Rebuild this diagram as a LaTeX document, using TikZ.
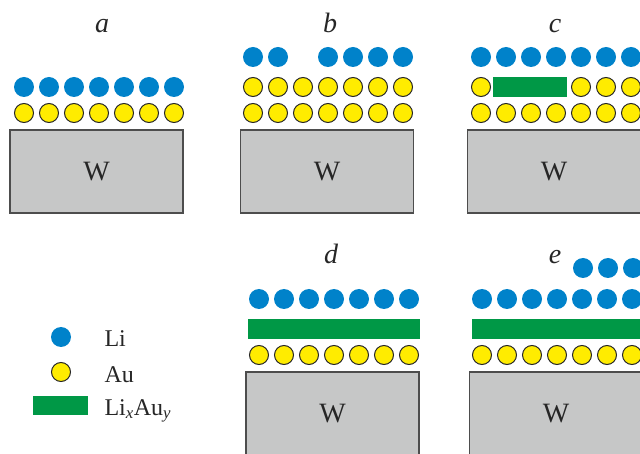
\documentclass[tikz,border=0pt]{standalone}
\usepackage{fontspec}
\setmainfont{Liberation Serif}
\usepackage{tikz}
\definecolor{liblue}{HTML}{0082CA}
\definecolor{auyellow}{HTML}{FFEC00}
\definecolor{alloygreen}{HTML}{009846}
\definecolor{wgray}{HTML}{C6C7C7}
\definecolor{edge}{HTML}{4D4D4D}

\begin{document}
\begin{tikzpicture}[
    x=1pt,y=-1pt,
    li/.style={circle,fill=liblue,minimum size=20pt,inner sep=0pt},
    au/.style={circle,fill=auyellow,draw=black!85,line width=1pt,minimum size=19pt,inner sep=0pt},
    alloy/.style={rectangle,fill=alloygreen,inner sep=0pt,minimum height=20pt},
    wbox/.style={rectangle,draw=edge,fill=wgray,line width=1.2pt,minimum width=173pt,minimum height=83pt,
      inner sep=0pt,text=black!85,font=\fontsize{28}{28}\selectfont},
    tag/.style={anchor=base,text=black!85,font=\fontsize{28}{28}\selectfont\itshape},
    legtext/.style={anchor=base west,text=black!85,font=\fontsize{24}{24}\selectfont}
  ]
    \path[use as bounding box,clip] (0,0) rectangle (640,454);

    % a
    \node[tag] (tag-a) at (102,33) {a};
    \foreach \i in {0,...,6} {
      \node[li] (a-li-\i) at (24+25*\i,87) {};
      \node[au] (a-au-\i) at (24+25*\i,113) {};
    }
    \node[wbox] (w-a) at (96.5,171.5) {W};

    % b
    \node[tag] (tag-b) at (330,33) {b};
    \foreach \i in {0,1,3,4,5,6}
      \node[li] (b-li-\i) at (253+25*\i,57) {};
    \foreach \i in {0,...,6} {
      \node[au] (b-au1-\i) at (253+25*\i,87) {};
      \node[au] (b-au2-\i) at (253+25*\i,113) {};
    }
    \node[wbox] (w-b) at (327,171.5) {W};

    % c
    \node[tag] (tag-c) at (555,33) {c};
    \foreach \i in {0,...,6} {
      \node[li] (c-li-\i) at (481+25*\i,57) {};
      \node[au] (c-au2-\i) at (481+25*\i,113) {};
    }
    \foreach \i in {0,4,5,6}
      \node[au] (c-au1-\i) at (481+25*\i,87) {};
    \node[alloy,minimum width=74pt] (c-alloy) at (530,87) {};
    \node[wbox] (w-c) at (554,171.5) {W};

    % d
    \node[tag] (tag-d) at (331,264) {d};
    \foreach \i in {0,...,6} {
      \node[li] (d-li-\i) at (259+25*\i,299) {};
      \node[au] (d-au-\i) at (259+25*\i,355) {};
    }
    \node[alloy,minimum width=172pt] (d-alloy) at (334,329) {};
    \node[wbox] (w-d) at (332.5,413.5) {W};

    % e
    \node[tag] (tag-e) at (555,264) {e};
    \foreach \i in {0,...,6} {
      \node[li] (e-li-\i) at (482+25*\i,299) {};
      \node[au] (e-au-\i) at (482+25*\i,355) {};
    }
    \foreach \i in {0,1,2}
      \node[li] (e-top-\i) at (583+25*\i,268) {};
    \node[alloy,minimum width=172pt] (e-alloy) at (558,329) {};
    \node[wbox] (w-e) at (556,413.5) {W};

    % legend
    \node[li] (key-li) at (61,337) {};
    \node[au] (key-au) at (61,372) {};
    \node[alloy,minimum width=55pt,minimum height=19pt] (key-alloy) at (60.5,405.5) {};
    \node[legtext] (lab-li) at (101,347) {Li};
    \node[legtext] (lab-au) at (101,382) {Au};
    \node[legtext] (lab-alloy) at (101,415) {Li$_{\mathit{x}}$Au$_{\mathit{y}}$};
  \end{tikzpicture}
\end{document}
